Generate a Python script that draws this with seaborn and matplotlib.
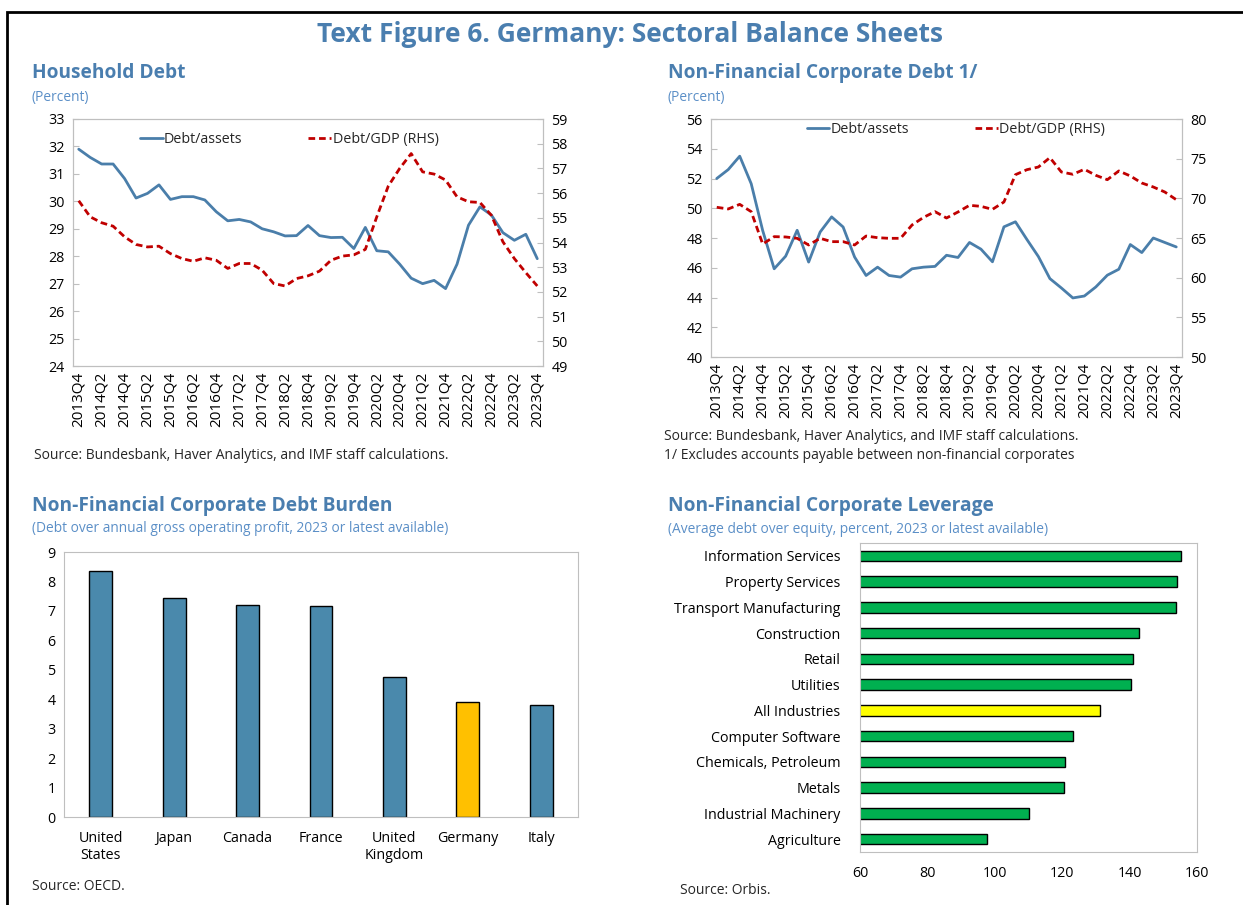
import matplotlib
matplotlib.use("Agg")
import matplotlib.pyplot as plt
from matplotlib.patches import Rectangle
from matplotlib.ticker import FixedLocator
import numpy as np
import pandas as pd
import seaborn as sns

# ---- data -------------------------------------------------------------
quarters = pd.period_range("2013Q4", "2023Q4", freq="Q").astype(str).tolist()

hh_debt_assets = [31.9, 31.6, 31.36, 31.36, 30.83, 30.12, 30.29, 30.6, 30.07, 30.17,
                  30.17, 30.05, 29.62, 29.29, 29.34, 29.25, 29.0, 28.89, 28.74, 28.75,
                  29.12, 28.75, 28.68, 28.69, 28.28, 29.05, 28.2, 28.16, 27.71, 27.2,
                  27.0, 27.12, 26.82, 27.71, 29.13, 29.8, 29.5, 28.86, 28.58, 28.8, 27.91]
hh_debt_gdp = [55.69, 55.04, 54.8, 54.66, 54.23, 53.92, 53.82, 53.85, 53.55, 53.35,
               53.24, 53.38, 53.28, 52.95, 53.15, 53.15, 52.88, 52.34, 52.24, 52.54,
               52.65, 52.84, 53.28, 53.45, 53.5, 53.72, 55.04, 56.28, 57.0, 57.6,
               56.86, 56.77, 56.53, 55.85, 55.65, 55.62, 55.1, 54.03, 53.35, 52.78, 52.24]

nfc_debt_assets = [52.0, 52.6, 53.5, 51.65, 48.5, 45.93, 46.78, 48.52, 46.38, 48.4,
                   49.42, 48.74, 46.72, 45.48, 46.04, 45.48, 45.37, 45.93, 46.04, 46.09,
                   46.84, 46.69, 47.7, 47.25, 46.4, 48.75, 49.09, 47.9, 46.75, 45.27,
                   44.64, 43.97, 44.1, 44.71, 45.5, 45.9, 47.56, 47.02, 48.0, 47.7, 47.4]
nfc_debt_gdp = [68.87, 68.66, 69.24, 68.32, 64.24, 65.17, 65.13, 64.96, 64.12, 64.96,
                64.54, 64.54, 64.12, 65.25, 65.04, 64.96, 64.96, 66.64, 67.6, 68.32,
                67.52, 68.28, 69.12, 68.99, 68.61, 69.54, 72.98, 73.61, 73.95, 75.13,
                73.32, 73.03, 73.66, 72.9, 72.35, 73.45, 72.82, 71.93, 71.43, 70.8, 69.83]

countries = ["United\nStates", "Japan", "Canada", "France", "United\nKingdom", "Germany", "Italy"]
debt_burden = [8.37, 7.45, 7.19, 7.18, 4.77, 3.9, 3.79]

industries = ["Information Services", "Property Services", "Transport Manufacturing",
              "Construction", "Retail", "Utilities", "All Industries", "Computer Software",
              "Chemicals, Petroleum", "Metals", "Industrial Machinery", "Agriculture"]
leverage = [155.4, 154.2, 153.9, 142.8, 141.1, 140.4, 131.2, 123.3, 120.9, 120.5, 110.1, 97.8]

# ---- style ------------------------------------------------------------
sns.set_style("white")
plt.rcParams["font.family"] = ["Open Sans", "DejaVu Sans"]
plt.rcParams["axes.edgecolor"] = "#BFBFBF"
plt.rcParams["xtick.color"] = "#BFBFBF"
plt.rcParams["ytick.color"] = "#BFBFBF"
plt.rcParams["xtick.labelcolor"] = "black"
plt.rcParams["ytick.labelcolor"] = "black"

TITLE_BLUE = "#4A7EAF"
SUB_BLUE = "#5B8FC7"
LINE_BLUE = "#4A7EAA"
LINE_RED = "#C00000"
BAR_BLUE = "#4A89AC"

W, H = 1243, 905
fig = plt.figure(figsize=(W / 100, H / 100), dpi=100)


def px_rect(left, top, right, bottom):
    return [left / W, 1 - bottom / H, (right - left) / W, (bottom - top) / H]


def fig_text(x, y, s, **kw):
    fig.text(x / W, 1 - y / H, s, va="center", **kw)


def style_ticks(ax):
    ax.tick_params(which="both", direction="in", labelsize=10.3, pad=6)
    ax.tick_params(which="major", length=4)
    ax.tick_params(which="minor", length=4)


def line_panel(rect, values_left, values_right, ylim_l, step_l, ylim_r, step_r, leg_anchor):
    df = pd.DataFrame({"t": np.arange(len(quarters)), "assets": values_left, "gdp": values_right})
    ax = fig.add_axes(rect)
    ax2 = ax.twinx()
    sns.lineplot(data=df, x="t", y="assets", ax=ax, color=LINE_BLUE, lw=2, label="Debt/assets")
    sns.lineplot(data=df, x="t", y="gdp", ax=ax2, color=LINE_RED, lw=2,
                 dashes=False, label="Debt/GDP (RHS)")
    ax2.lines[0].set_dashes([2.4, 1.4])
    for a in (ax, ax2):
        if a.get_legend() is not None:
            a.get_legend().remove()
        a.set_xlabel("")
        a.set_ylabel("")
        for sp in a.spines.values():
            sp.set_color("#BFBFBF")
        style_ticks(a)
    ax.set_xlim(-0.5, len(quarters) - 0.5)
    ax.set_ylim(*ylim_l)
    ax.set_yticks(np.arange(ylim_l[0], ylim_l[1] + 0.1, step_l))
    ax2.set_ylim(*ylim_r)
    ax2.set_yticks(np.arange(ylim_r[0], ylim_r[1] + 0.1, step_r))
    ax.set_xticks(df["t"][::2])
    ax.set_xticklabels(quarters[::2], rotation=90, fontsize=11)
    ax.xaxis.set_minor_locator(FixedLocator(np.arange(-0.5, len(quarters), 1)))
    ax.tick_params(axis="x", which="major", length=0, pad=4)
    h1, l1 = ax.get_legend_handles_labels()
    h2, l2 = ax2.get_legend_handles_labels()
    ax.legend(h1 + h2, l1 + l2, ncol=2, loc="center", bbox_to_anchor=leg_anchor,
              frameon=False, fontsize=10.3, handlelength=1.6, handletextpad=0.1,
              columnspacing=4.6)
    return ax


# ---- frame and titles -------------------------------------------------
fig.add_artist(Rectangle((7 / W, -0.1), 1.2, 1.1 - 12 / H, transform=fig.transFigure,
                         fill=False, edgecolor="black", lw=2))
fig_text(630, 35, "Text Figure 6. Germany: Sectoral Balance Sheets", ha="center",
         fontsize=19, fontweight="bold", color=TITLE_BLUE)

# ---- household debt ---------------------------------------------------
fig_text(32, 73, "Household Debt", fontsize=13.8, fontweight="bold", color=TITLE_BLUE)
fig_text(32, 97, "(Percent)", fontsize=9.9, color=SUB_BLUE)
line_panel(px_rect(73, 119, 543, 366), hh_debt_assets, hh_debt_gdp,
           (24, 33), 1, (49, 59), 1, (0.46, 0.915))
fig_text(34, 455, "Source: Bundesbank, Haver Analytics, and IMF staff calculations.", fontsize=10)

# ---- NFC debt ---------------------------------------------------------
fig_text(668, 73, "Non-Financial Corporate Debt 1/", fontsize=13.8, fontweight="bold", color=TITLE_BLUE)
fig_text(668, 97, "(Percent)", fontsize=9.9, color=SUB_BLUE)
line_panel(px_rect(711, 119, 1182, 357), nfc_debt_assets, nfc_debt_gdp,
           (40, 56), 2, (50, 80), 5, (0.52, 0.955))
fig_text(664, 436, "Source: Bundesbank, Haver Analytics, and IMF staff calculations.", fontsize=10)
fig_text(664, 455, "1/ Excludes accounts payable between non-financial corporates", fontsize=10)

# ---- debt burden bars -------------------------------------------------
fig_text(32, 506, "Non-Financial Corporate Debt Burden", fontsize=13.8, fontweight="bold", color=TITLE_BLUE)
fig_text(32, 528, "(Debt over annual gross operating profit, 2023 or latest available)",
         fontsize=9.9, color=SUB_BLUE)
ax3 = fig.add_axes(px_rect(64, 552, 578, 817))
burden_df = pd.DataFrame({"country": countries, "value": debt_burden})
pal3 = {c: ("#FFC000" if c == "Germany" else BAR_BLUE) for c in countries}
sns.barplot(data=burden_df, x="country", y="value", hue="country", palette=pal3, legend=False,
            width=0.31, edgecolor="black", linewidth=1, saturation=1, ax=ax3)
ax3.set_xlabel("")
ax3.set_ylabel("")
ax3.set_ylim(0, 9)
ax3.set_yticks(range(0, 10))
ax3.set_xlim(-0.5, len(countries) - 0.5)
ax3.xaxis.set_minor_locator(FixedLocator(np.arange(-0.5, len(countries), 1)))
style_ticks(ax3)
ax3.tick_params(axis="x", which="major", length=0, pad=10, labelsize=10.3)
ax3.tick_params(axis="y", labelsize=10.3)
for sp in ax3.spines.values():
    sp.set_color("#BFBFBF")
fig_text(32, 886, "Source: OECD.", fontsize=10)

# ---- leverage bars ----------------------------------------------------
fig_text(668, 506, "Non-Financial Corporate Leverage", fontsize=13.8, fontweight="bold", color=TITLE_BLUE)
fig_text(668, 529, "(Average debt over equity, percent, 2023 or latest available)",
         fontsize=9.9, color=SUB_BLUE)
ax4 = fig.add_axes(px_rect(860, 543, 1197, 852))
lev_df = pd.DataFrame({"industry": industries, "value": leverage})
pal4 = {i: ("#FFFF00" if i == "All Industries" else "#00B050") for i in industries}
sns.barplot(data=lev_df, x="value", y="industry", hue="industry", palette=pal4, legend=False,
            orient="h", width=0.4, edgecolor="black", linewidth=1, saturation=1, ax=ax4)
ax4.set_xlabel("")
ax4.set_ylabel("")
ax4.set_xlim(60, 160)
ax4.set_xticks(range(60, 161, 20))
ax4.set_ylim(len(industries) - 0.5, -0.5)
ax4.yaxis.set_minor_locator(FixedLocator(np.arange(-0.5, len(industries), 1)))
style_ticks(ax4)
ax4.tick_params(axis="y", which="major", length=0, pad=14, labelsize=10.3)
ax4.tick_params(axis="x", pad=10, labelsize=10.3)
for sp in ax4.spines.values():
    sp.set_color("#BFBFBF")
fig_text(680, 890, "Source: Orbis.", fontsize=10)

fig.savefig("out.png", dpi=100)
